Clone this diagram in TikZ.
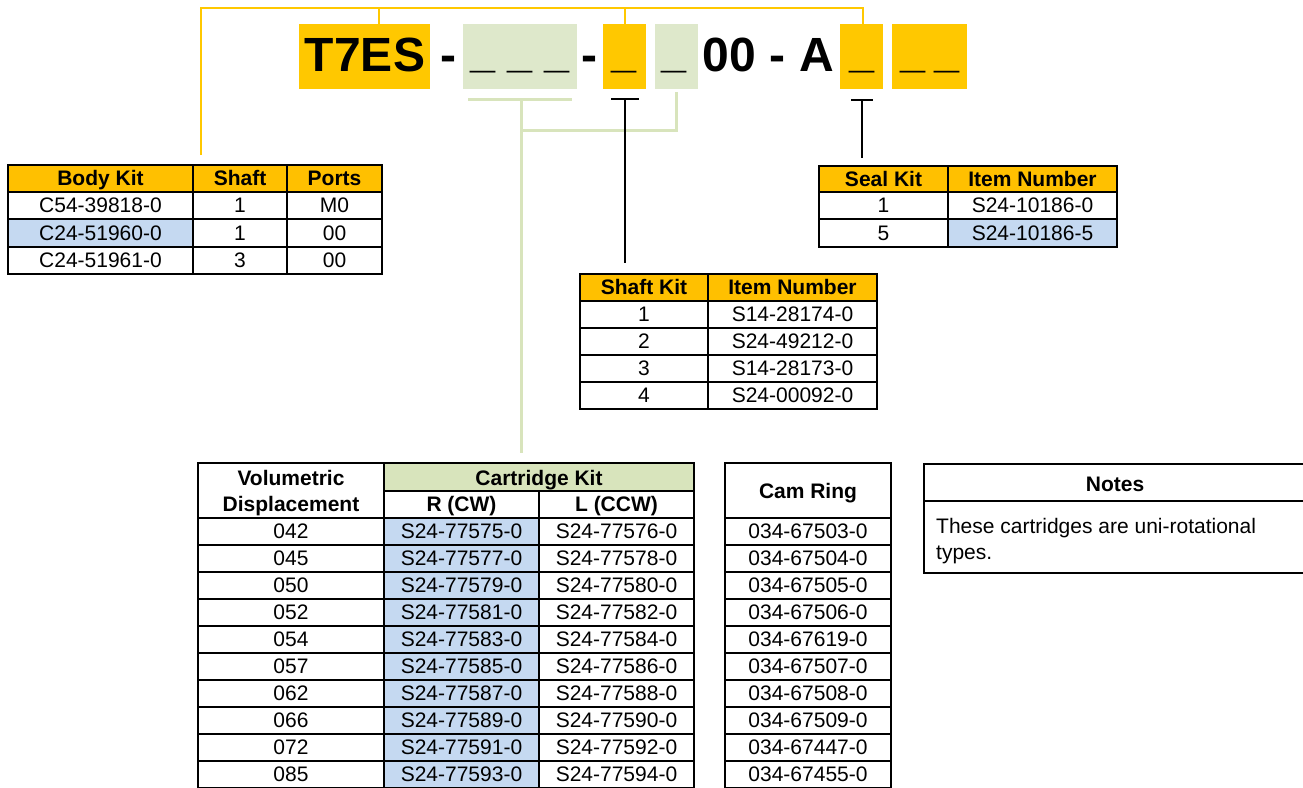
\documentclass[tikz,border=0pt]{standalone}
\usepackage{fontspec}
\setmainfont{Liberation Sans}
\definecolor{hdryel}{RGB}{255,192,0}
\definecolor{boxyel}{RGB}{255,200,0}
\definecolor{boxgrn}{RGB}{222,232,203}
\definecolor{hdrgrn}{RGB}{216,228,188}
\definecolor{cellblue}{RGB}{197,217,241}
\definecolor{lngrn}{RGB}{216,228,188}
\definecolor{lnyel}{RGB}{255,200,0}
\begin{document}
\begin{tikzpicture}[x=1pt,y=-1pt,
  txt/.style={anchor=base,inner sep=0pt,font=\fontsize{21}{25}\selectfont},
  hdr/.style={anchor=base,inner sep=0pt,font=\fontsize{21}{25}\selectfont\bfseries},
  big/.style={anchor=base,inner sep=0pt,font=\fontsize{48}{50}\selectfont\bfseries},
  blank/.style={anchor=base,inner sep=0pt,font=\fontsize{45}{50}\selectfont\bfseries},
  topbox/.style={draw=none,minimum height=65pt,inner sep=0pt},
  gridline/.style={line width=2pt},
  ylink/.style={draw=lnyel,line width=2.5pt},
  glink/.style={draw=lngrn,line width=3pt},
  klink/.style={draw=black,line width=2pt}]
\useasboundingbox (0,0) rectangle (1303,787);
\fill[white] (0,0) rectangle (1303,787);

% ---------- top code boxes ----------
\node[topbox,fill=boxyel,minimum width=131pt] (b1) at (364.5,56.5) {};
\node[topbox,fill=boxgrn,minimum width=114pt] (b2) at (520,56.5) {};
\node[topbox,fill=boxyel,minimum width=43pt] (b3) at (624.5,56.5) {};
\node[topbox,fill=boxgrn,minimum width=43pt] (b4) at (676.5,56.5) {};
\node[topbox,fill=boxyel,minimum width=43pt] (b5) at (861.5,56.5) {};
\node[topbox,fill=boxyel,minimum width=75pt] (b6) at (929.5,56.5) {};

\node[big] (t1) at (365,71) {T7ES};
\node[big] (t2) at (448,71) {-};
\node[blank] (u1) at (483,67) {\_};
\node[blank] (u2) at (520,67) {\_};
\node[blank] (u3) at (557,67) {\_};
\node[big] (t4) at (589,71) {-};
\node[blank] (u4) at (624,67) {\_};
\node[blank] (u5) at (674.5,67) {\_};
\node[big] (t7) at (729.5,71) {00};
\node[big] (t8) at (777,71) {-};
\node[big] (t9) at (816.5,71) {A};
\node[blank] (u6) at (862,67) {\_};
\node[blank] (u7) at (913,67) {\_};
\node[blank] (u8) at (947,67) {\_};

% ---------- connector coordinates ----------
\coordinate (yA) at (201,155);
\coordinate (yTL) at (201,8);
\coordinate (yTR) at (863,8);
\coordinate (y1a) at (379,8);
\coordinate (y1b) at (379,24);
\coordinate (y2a) at (625,8);
\coordinate (y2b) at (625,24);
\coordinate (y3b) at (863,24);

\coordinate (gL) at (468,99);
\coordinate (gR) at (572,99);
\coordinate (gM) at (521,99);
\coordinate (gK) at (521,130);
\coordinate (gE) at (521,453);
\coordinate (gJ) at (676,130);
\coordinate (gU) at (676,92);

\coordinate (k1L) at (611,99);
\coordinate (k1R) at (639,99);
\coordinate (k1M) at (625,99);
\coordinate (k1E) at (625,263);
\coordinate (k2L) at (851,100);
\coordinate (k2R) at (873,100);
\coordinate (k2M) at (862,100);
\coordinate (k2E) at (862,158);

\draw[ylink] (yA) -- (yTL) -- (yTR) -- (y3b);
\draw[ylink] (y1a) -- (y1b);
\draw[ylink] (y2a) -- (y2b);

\draw[glink] (gL) -- (gR);
\draw[glink] (gM) -- (gE);
\draw[glink] (gK) -- (gJ) -- (gU);

\draw[klink] (k1L) -- (k1R);
\draw[klink] (k1M) -- (k1E);
\draw[klink] (k2L) -- (k2R);
\draw[klink] (k2M) -- (k2E);

% ---------- Body Kit table ----------
\fill[hdryel] (8,165) rectangle (382,192);
\fill[cellblue] (8,219) rectangle (193,247);
\draw[gridline] (8,165) rectangle (382,274);
\draw[gridline] (8,192) -- (382,192) (8,219) -- (382,219) (8,247) -- (382,247)
  (193,165) -- (193,274) (287,165) -- (287,274);
\node[hdr] (bk0) at (100.5,185.5) {Body Kit};
\node[hdr] (bs0) at (240,185.5) {Shaft};
\node[hdr] (bp0) at (334.5,185.5) {Ports};
\node[txt] (bk1) at (100.5,212.5) {C54-39818-0};
\node[txt] (bs1) at (240,212.5) {1};
\node[txt] (bp1) at (334.5,212.5) {M0};
\node[txt] (bk2) at (100.5,240) {C24-51960-0};
\node[txt] (bs2) at (240,240) {1};
\node[txt] (bp2) at (334.5,240) {00};
\node[txt] (bk3) at (100.5,267.5) {C24-51961-0};
\node[txt] (bs3) at (240,267.5) {3};
\node[txt] (bp3) at (334.5,267.5) {00};

% ---------- Seal Kit table ----------
\fill[hdryel] (819,166) rectangle (1117,192);
\fill[cellblue] (948,219) rectangle (1117,247);
\draw[gridline] (819,166) rectangle (1117,247);
\draw[gridline] (819,192) -- (1117,192) (819,219) -- (1117,219) (948,166) -- (948,247);
\node[hdr] (sk0) at (883.5,186) {Seal Kit};
\node[hdr] (si0) at (1032.5,186) {Item Number};
\node[txt] (sk1) at (883.5,212.5) {1};
\node[txt] (si1) at (1032.5,212.5) {S24-10186-0};
\node[txt] (sk2) at (883.5,240) {5};
\node[txt] (si2) at (1032.5,240) {S24-10186-5};

% ---------- Shaft Kit table ----------
\fill[hdryel] (580,274) rectangle (877,301);
\draw[gridline] (580,274) rectangle (877,409);
\draw[gridline] (580,301) -- (877,301) (580,328) -- (877,328) (580,355) -- (877,355)
  (580,382) -- (877,382) (708,274) -- (708,409);
\node[hdr] (hk0) at (644,294.5) {Shaft Kit};
\node[hdr] (hi0) at (792.5,294.5) {Item Number};
\node[txt] (hk1) at (644,321.5) {1};
\node[txt] (hi1) at (792.5,321.5) {S14-28174-0};
\node[txt] (hk2) at (644,348.5) {2};
\node[txt] (hi2) at (792.5,348.5) {S24-49212-0};
\node[txt] (hk3) at (644,375.5) {3};
\node[txt] (hi3) at (792.5,375.5) {S14-28173-0};
\node[txt] (hk4) at (644,402.5) {4};
\node[txt] (hi4) at (792.5,402.5) {S24-00092-0};

% ---------- Cartridge table ----------
\fill[hdrgrn] (384,463) rectangle (694,491);
\fill[cellblue] (384,518) rectangle (539,788);
\draw[gridline] (198,463) rectangle (694,788);
\draw[gridline] (384,463) -- (384,788) (539,491) -- (539,788) (384,491) -- (694,491);
\foreach \r in {518,545,...,761} {\draw[gridline] (198,\r) -- (694,\r);}
\node[hdr] (cv1) at (291,485) {Volumetric};
\node[hdr] (cv2) at (291,511.5) {Displacement};
\node[hdr] (ck) at (539,485) {Cartridge Kit};
\node[hdr] (cr) at (461.5,511) {R (CW)};
\node[hdr] (cl) at (616.5,511) {L (CCW)};

% ---------- Cam Ring table ----------
\draw[gridline] (725,463) rectangle (891,788);
\foreach \r in {518,545,...,761} {\draw[gridline] (725,\r) -- (891,\r);}
\node[hdr] (cm) at (808,498) {Cam Ring};

\foreach \i/\d/\rr/\ll/\cc in {0/042/S24-77575-0/S24-77576-0/034-67503-0,
  1/045/S24-77577-0/S24-77578-0/034-67504-0,
  2/050/S24-77579-0/S24-77580-0/034-67505-0,
  3/052/S24-77581-0/S24-77582-0/034-67506-0,
  4/054/S24-77583-0/S24-77584-0/034-67619-0,
  5/057/S24-77585-0/S24-77586-0/034-67507-0,
  6/062/S24-77587-0/S24-77588-0/034-67508-0,
  7/066/S24-77589-0/S24-77590-0/034-67509-0,
  8/072/S24-77591-0/S24-77592-0/034-67447-0,
  9/085/S24-77593-0/S24-77594-0/034-67455-0} {
  \pgfmathsetmacro{\yb}{538+27*\i}
  \node[txt] (d\i) at (291,\yb) {\d};
  \node[txt] (r\i) at (461.5,\yb) {\rr};
  \node[txt] (l\i) at (616.5,\yb) {\ll};
  \node[txt] (c\i) at (808,\yb) {\cc};
}

% ---------- Notes ----------
\draw[gridline,line width=1.3pt] (924,464) rectangle (1305,573);
\draw[gridline,line width=1.3pt] (924,501) -- (1305,501);
\node[hdr] (nh) at (1115,491) {Notes};
\node[txt,anchor=base west] (n1) at (936,533) {These cartridges are uni-rotational};
\node[txt,anchor=base west] (n2) at (936,559) {types.};
\end{tikzpicture}
\end{document}
